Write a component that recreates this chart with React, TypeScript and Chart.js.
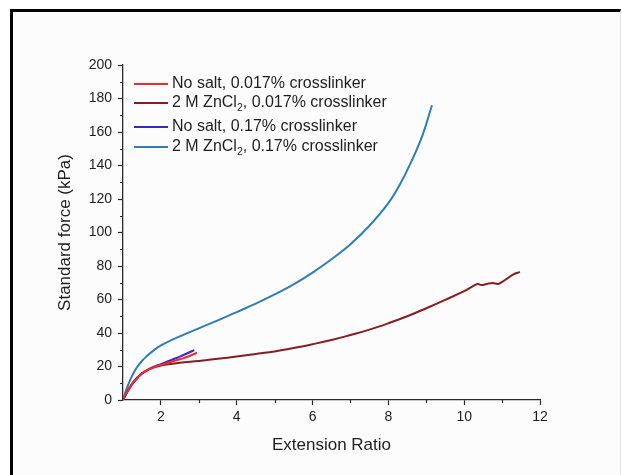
import React, { useEffect, useRef } from "react";
import { Chart, registerables } from "chart.js";

Chart.register(...registerables);

// ---- data ----
const seriesLabels = [
  "No salt, 0.017% crosslinker",
  "2 M ZnCl₂, 0.017% crosslinker",
  "No salt, 0.17% crosslinker",
  "2 M ZnCl₂, 0.17% crosslinker",
];
const seriesColors = ["#ec2a30", "#861d22", "#3a24c8", "#2f7db8"];

const xRed = [1.0, 1.1, 1.2, 1.3, 1.4, 1.5, 1.7, 1.9, 2.1, 2.3, 2.5, 2.7, 2.95];
const yRed = [0, 4.5, 8.3, 11.3, 13.8, 15.8, 18.5, 20.3, 21.6, 23, 24.3, 25.8, 28.2];

const xDarkRed = [1.0, 1.1, 1.2, 1.3, 1.4, 1.5, 1.7, 1.9, 2.1, 2.5, 3.0, 3.5, 4.0, 4.5, 5.0, 5.5, 6.0, 6.5, 7.0, 7.5, 8.0, 8.5, 9.0, 9.5, 10.0, 10.2, 10.35, 10.45, 10.6, 10.75, 10.9, 11.0, 11.15, 11.3, 11.47];
const yDarkRed = [0, 4.5, 8.5, 11.5, 14, 16, 18.5, 20, 21, 22.3, 23.3, 24.6, 26, 27.5, 29, 31, 33.3, 35.8, 38.8, 42, 45.8, 50, 54.8, 59.8, 65, 67.5, 69.3, 68.6, 69.3, 69.8, 69.3, 70.5, 72.8, 75, 76.5];

const xPurple = [1.0, 1.1, 1.2, 1.3, 1.4, 1.5, 1.7, 1.9, 2.1, 2.3, 2.5, 2.7, 2.88];
const yPurple = [0, 4.3, 8, 11, 13.6, 15.7, 18.6, 20.6, 22.3, 24.1, 25.9, 27.9, 29.8];

const xBlue = [1.0, 1.1, 1.2, 1.3, 1.4, 1.5, 1.6, 1.8, 2.0, 2.3, 2.6, 3.0, 3.5, 4.0, 4.5, 5.0, 5.5, 6.0, 6.5, 7.0, 7.5, 8.0, 8.3, 8.6, 8.9, 9.15];
const yBlue = [0, 7, 12.5, 17, 20.5, 23.3, 25.6, 29.5, 32.6, 36, 39, 42.8, 47.5, 52.5, 57.5, 63, 69, 76, 84, 93, 104, 117.5, 128.5, 142, 158, 176];

const xMajorTicks = [2, 4, 6, 8, 10, 12];
const xMinorTicks = [3, 5, 7, 9, 11];
const yMajorTicks = [0, 20, 40, 60, 80, 100, 120, 140, 160, 180, 200];
const yMinorTicks = [10, 30, 50, 70, 90, 110, 130, 150, 170, 190];

const xTitle = "Extension Ratio";
const yTitle = "Standard force (kPa)";

const FONT = "'Liberation Sans', Arial, sans-serif";
const TEXT = "#1e1e1e";
const AXIS = "#2a2a2a";

function pts(xs: number[], ys: number[]) {
  return xs.map((x, i) => ({ x, y: ys[i] }));
}

const minorTickPlugin = {
  id: "minorTicks",
  afterDraw(chart: any) {
    const ctx = chart.ctx;
    const xs = chart.scales.x;
    const ys = chart.scales.y;
    ctx.save();
    ctx.strokeStyle = AXIS;
    ctx.lineWidth = 1.2;
    ctx.beginPath();
    xMinorTicks.forEach((v) => {
      const px = Math.round(xs.getPixelForValue(v)) + 0.5;
      ctx.moveTo(px, xs.top);
      ctx.lineTo(px, xs.top + 3);
    });
    yMinorTicks.forEach((v) => {
      const py = Math.round(ys.getPixelForValue(v)) + 0.5;
      ctx.moveTo(ys.right, py);
      ctx.lineTo(ys.right - 3, py);
    });
    ctx.stroke();
    ctx.restore();
  },
};

const legendRowOffsets = [19, 38, 62, 82];

const insideLegendPlugin = {
  id: "insideLegend",
  afterDraw(chart: any) {
    const ctx = chart.ctx;
    const { left, top } = chart.chartArea;
    ctx.save();
    chart.data.datasets.forEach((ds: any, i: number) => {
      const y = top + legendRowOffsets[i];
      ctx.strokeStyle = ds.borderColor;
      ctx.lineWidth = 2;
      ctx.beginPath();
      ctx.moveTo(left + 11, y);
      ctx.lineTo(left + 45, y);
      ctx.stroke();
      ctx.fillStyle = TEXT;
      ctx.textBaseline = "middle";
      ctx.textAlign = "left";
      let tx = left + 49;
      const parts = String(ds.label).split("₂");
      parts.forEach((p: string, j: number) => {
        ctx.font = `16px ${FONT}`;
        ctx.fillText(p, tx, y);
        tx += ctx.measureText(p).width;
        if (j < parts.length - 1) {
          ctx.font = `10.5px ${FONT}`;
          ctx.fillText("2", tx, y + 5);
          tx += ctx.measureText("2").width;
        }
      });
    });
    ctx.restore();
  },
};

export default function App() {
  const ref = useRef<HTMLCanvasElement | null>(null);

  useEffect(() => {
    if (!ref.current) return;
    const chart = new Chart(ref.current, {
      type: "line",
      data: {
        datasets: [
          { label: seriesLabels[0], data: pts(xRed, yRed), borderColor: seriesColors[0] },
          { label: seriesLabels[1], data: pts(xDarkRed, yDarkRed), borderColor: seriesColors[1] },
          { label: seriesLabels[2], data: pts(xPurple, yPurple), borderColor: seriesColors[2] },
          { label: seriesLabels[3], data: pts(xBlue, yBlue), borderColor: seriesColors[3] },
        ].map((d) => ({
          ...d,
          borderWidth: 2,
          pointRadius: 0,
          fill: false,
          tension: 0.4,
        })),
      },
      options: {
        responsive: false,
        animation: false,
        layout: { padding: { top: 65, right: 82, bottom: 19, left: 55 } },
        plugins: {
          legend: { display: false },
          tooltip: { enabled: false },
        },
        scales: {
          x: {
            type: "linear",
            min: 1,
            max: 12,
            afterBuildTicks: (s: any) => {
              s.ticks = xMajorTicks.map((v) => ({ value: v }));
            },
            afterFit: (s: any) => {
              s.height = 56;
            },
            border: { color: AXIS, width: 1.3 },
            grid: {
              drawOnChartArea: false,
              drawTicks: true,
              tickLength: 5,
              tickColor: AXIS,
              tickWidth: 1.2,
            },
            ticks: {
              color: TEXT,
              font: { family: FONT, size: 14 },
              padding: 4,
              maxRotation: 0,
              callback: (v: any) => String(v),
            },
            title: {
              display: true,
              text: xTitle,
              color: TEXT,
              font: { family: FONT, size: 17 },
              padding: 0,
            },
          },
          y: {
            type: "linear",
            min: 0,
            max: 200,
            afterBuildTicks: (s: any) => {
              s.ticks = yMajorTicks.map((v) => ({ value: v }));
            },
            afterFit: (s: any) => {
              s.width = 123 - 55;
            },
            border: { color: AXIS, width: 1.3 },
            grid: {
              drawOnChartArea: false,
              drawTicks: true,
              tickLength: 5,
              tickColor: AXIS,
              tickWidth: 1.2,
            },
            ticks: {
              color: TEXT,
              font: { family: FONT, size: 14 },
              padding: 6,
              callback: (v: any) => String(v),
            },
            title: {
              display: true,
              text: yTitle,
              color: TEXT,
              font: { family: FONT, size: 17 },
              padding: 0,
            },
          },
        },
      },
      plugins: [minorTickPlugin, insideLegendPlugin],
    } as any);
    return () => chart.destroy();
  }, []);

  return (
    <div
      style={{
        position: "fixed",
        left: 0,
        top: 0,
        width: 622,
        height: 475,
        background: "#ffffff",
        overflow: "hidden",
      }}
    >
      <div
        style={{
          position: "absolute",
          left: 10,
          top: 9,
          width: 607,
          height: 470,
          borderLeft: "3px solid #000",
          borderTop: "3px solid #000",
          borderRight: "1px solid #e6e6e6",
          background: "#fcfcfc",
        }}
      />
      <canvas
        ref={ref}
        width={622}
        height={475}
        style={{ position: "absolute", left: 0, top: 0 }}
      />
    </div>
  );
}
